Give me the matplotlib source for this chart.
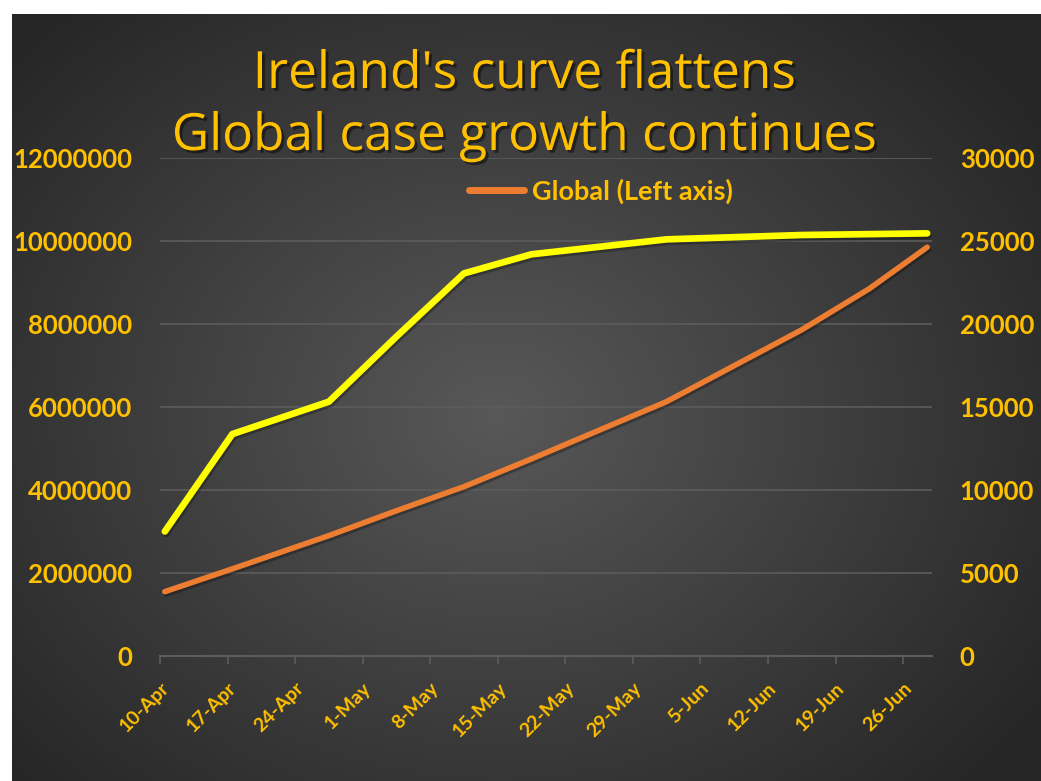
import numpy as np
import matplotlib
matplotlib.use("Agg")
import matplotlib.pyplot as plt
import matplotlib.patheffects as pe
from datetime import datetime, timedelta

# data
ireland_dates = ["2020-04-10", "2020-04-17", "2020-04-27", "2020-05-04", "2020-05-11",
                 "2020-05-18", "2020-06-01", "2020-06-15", "2020-06-28"]
ireland_cases = [7500, 13370, 15320, 19240, 23050, 24200, 25100, 25360, 25460]

global_dates = ["2020-04-10", "2020-04-17", "2020-04-27", "2020-05-04", "2020-05-11",
                "2020-05-18", "2020-06-01", "2020-06-15", "2020-06-22", "2020-06-28"]
global_cases = [1550000, 2100000, 2900000, 3500000, 4080000,
                4750000, 6130000, 7860000, 8850000, 9850000]

tick_dates = ["2020-04-10", "2020-04-17", "2020-04-24", "2020-05-01", "2020-05-08", "2020-05-15",
              "2020-05-22", "2020-05-29", "2020-06-05", "2020-06-12", "2020-06-19", "2020-06-26"]
left_ticks = [0, 2000000, 4000000, 6000000, 8000000, 10000000, 12000000]
right_ticks = [0, 5000, 10000, 15000, 20000, 25000, 30000]

GOLD = "#FFC000"
YELLOW = "#FFFF00"
ORANGE = "#ED7D31"
GRID = "#5c5c5c"
plt.rcParams['font.family'] = ['Lato', 'DejaVu Sans']

def to_dt(s):
    # Excel date axis puts points in the middle of the day
    return datetime.strptime(s, "%Y-%m-%d") + timedelta(hours=12)

W, H = 1041, 781
fig = plt.figure(figsize=(W / 100, H / 100), dpi=100)
fig.patch.set_facecolor("white")

# radial gradient background
bg = fig.add_axes([12 / W, 0, 1 - 12 / W, 1 - 14 / H])
bg.axis("off")
ny, nx = 300, 400
yy, xx = np.mgrid[0:ny, 0:nx]
r = np.sqrt(((xx / nx - 0.47) / 0.62) ** 2 + ((yy / ny - 0.52) / 0.68) ** 2)
val = np.clip(0.345 - 0.19 * r, 0.15, 0.36)
bg.imshow(np.dstack([val, val, val]), aspect="auto", interpolation="bilinear")

ax = fig.add_axes([160 / W, 1 - 656 / H, (932 - 160) / W, (656 - 158) / H])
ax.set_facecolor("none")
ax2 = ax.twinx()

def shadow(lw):
    return [pe.SimpleLineShadow(offset=(1, -1.8), shadow_color="black", alpha=0.28, linewidth=lw),
            pe.Normal()]

gx = [to_dt(d) for d in global_dates]
ix = [to_dt(d) for d in ireland_dates]
ax.plot(gx, global_cases, color=ORANGE, lw=4.0, solid_capstyle="round", solid_joinstyle="round",
        path_effects=shadow(4.0), label="Global (Left axis)", zorder=3)
ax2.plot(ix, ireland_cases, color=YELLOW, lw=4.8, solid_capstyle="round", solid_joinstyle="round",
         path_effects=shadow(4.8), zorder=3)

ax.set_xlim(datetime(2020, 4, 10), datetime(2020, 6, 29))
ax.set_ylim(0, 12000000)
ax2.set_ylim(0, 30000)
ax.set_yticks(left_ticks)
ax2.set_yticks(right_ticks)
ax.set_yticklabels([str(v) for v in left_ticks])
ax2.set_yticklabels([str(v) for v in right_ticks])

ticks = [datetime.strptime(d, "%Y-%m-%d") for d in tick_dates]
ax.set_xticks(ticks)
ax.set_xticklabels([f"{t.day}-{t.strftime('%b')}" for t in ticks], rotation=45,
                   ha="right", va="top", rotation_mode="anchor")

for a in (ax, ax2):
    for s in a.spines.values():
        s.set_visible(False)
ax.spines["bottom"].set_visible(True)
ax.spines["bottom"].set_color(GRID)
ax.spines["bottom"].set_linewidth(1.5)

ax.grid(axis="y", color=GRID, lw=1.2)
ax.set_axisbelow(True)
ax.tick_params(axis="x", colors=GRID, length=6, width=1.2, pad=11, labelcolor=GOLD, labelsize=14)
ax.tick_params(axis="y", length=0, pad=20, labelcolor=GOLD, labelsize=18.5)
ax2.tick_params(axis="y", length=0, pad=20, labelcolor=GOLD, labelsize=18.5)
for lab in ax.get_yticklabels() + ax2.get_yticklabels() + ax.get_xticklabels():
    lab.set_fontweight("bold")

title_fx = [pe.withSimplePatchShadow(offset=(2, -2), shadow_rgbFace="black", alpha=0.45)]
for txt, base in [("Ireland's curve flattens", 88), ("Global case growth continues", 150)]:
    fig.text(524 / W, 1 - base / H, txt, ha="center", va="baseline", color=GOLD,
             fontsize=37, family=["Open Sans", "DejaVu Sans"], path_effects=title_fx)

leg = fig.legend(loc="center", bbox_to_anchor=(601 / W, 1 - 191 / H), frameon=False,
                 handlelength=2.0, handletextpad=0.3, prop={"weight": "bold", "size": 19.5})
for t in leg.get_texts():
    t.set_color(GOLD)
for h in leg.legend_handles:
    h.set_path_effects([])
    h.set_linewidth(5)

fig.savefig("out.png", dpi=100, facecolor=fig.get_facecolor())
